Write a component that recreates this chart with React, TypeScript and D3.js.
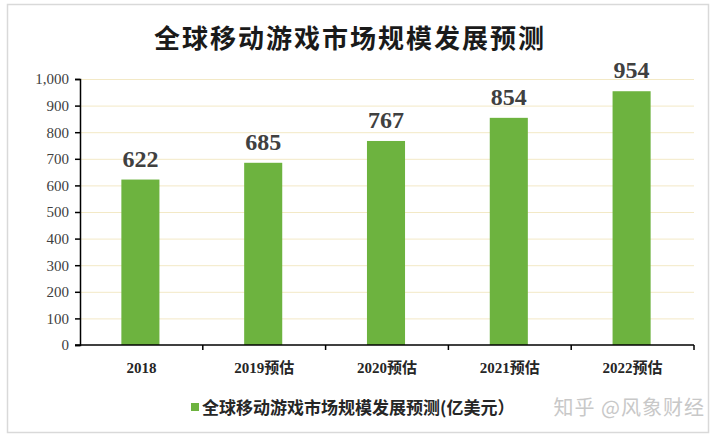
import React, { useEffect, useRef } from "react";
import * as d3 from "d3";

// chart data
const categories = ["2018", "2019预估", "2020预估", "2021预估", "2022预估"];
const values = [622, 685, 767, 854, 954];
const yTicks = [0, 100, 200, 300, 400, 500, 600, 700, 800, 900, 1000];
const title = "全球移动游戏市场规模发展预测";
const seriesName = "全球移动游戏市场规模发展预测(亿美元）";

const serif = "'Liberation Serif', 'Times New Roman', serif";
const cjk = "'Noto Sans CJK SC', sans-serif";

function App() {
  const svgRef = useRef<SVGSVGElement | null>(null);

  useEffect(() => {
    const svg = d3.select(svgRef.current);
    svg.selectAll("*").remove();

    const width = 718, height = 440;
    const margin = { left: 80, right: 24, top: 79, bottom: 95 };

    svg.attr("width", width).attr("height", height);

    svg.append("rect").attr("width", width).attr("height", height).attr("fill", "#fff");
    svg.append("rect")
      .attr("x", 7.5).attr("y", 4.5)
      .attr("width", 701).attr("height", 428)
      .attr("fill", "#fff")
      .attr("stroke", "#d9d9d9")
      .attr("stroke-width", 1.5);

    const x = d3.scaleBand()
      .domain(categories)
      .range([margin.left, width - margin.right])
      .paddingInner(0.69)
      .paddingOuter(0.345);

    const y = d3.scaleLinear()
      .domain([0, 1000])
      .range([height - margin.bottom, margin.top]);

    // gridlines
    svg.append("g")
      .selectAll("line")
      .data(yTicks.filter(d => d > 0))
      .join("line")
      .attr("x1", margin.left)
      .attr("x2", width - margin.right)
      .attr("y1", d => y(d) + 0.5)
      .attr("y2", d => y(d) + 0.5)
      .attr("stroke", "#f3e9c6")
      .attr("stroke-width", 1);

    // bars
    svg.append("g")
      .selectAll("rect")
      .data(values)
      .join("rect")
      .attr("x", (d, i) => x(categories[i])! - 1)
      .attr("y", d => y(d))
      .attr("width", x.bandwidth())
      .attr("height", d => y(0) - y(d))
      .attr("fill", "#6db33f");

    // value labels
    svg.append("g")
      .selectAll("text")
      .data(values)
      .join("text")
      .attr("x", (d, i) => x(categories[i])! + x.bandwidth() / 2 - 1)
      .attr("y", d => y(d) - 13)
      .attr("text-anchor", "middle")
      .attr("font-family", serif)
      .attr("font-weight", "bold")
      .attr("font-size", 24)
      .attr("fill", "#404040")
      .text(d => d);

    // y axis
    const yAxis = d3.axisLeft(y)
      .tickValues(yTicks)
      .tickSize(5)
      .tickFormat(d => d3.format(",")(d as number));
    const gy = svg.append("g")
      .attr("transform", `translate(${margin.left},0)`)
      .call(yAxis);
    gy.select(".domain").attr("stroke", "#000").attr("stroke-width", 1.5);
    gy.selectAll(".tick line").attr("stroke", "#000").attr("stroke-width", 1.5);
    gy.selectAll(".tick text")
      .attr("font-family", serif)
      .attr("font-size", 15)
      .attr("fill", "#404040")
      .attr("x", -11);

    // x axis with ticks at band edges
    const gx = svg.append("g")
      .attr("transform", `translate(0,${y(0)})`);
    gx.append("line")
      .attr("x1", margin.left - 5)
      .attr("x2", width - margin.right)
      .attr("stroke", "#000")
      .attr("stroke-width", 1.5);
    const step = x.step();
    gx.selectAll("line.tk")
      .data(categories)
      .join("line")
      .attr("class", "tk")
      .attr("x1", (d, i) => margin.left + step * (i + 1))
      .attr("x2", (d, i) => margin.left + step * (i + 1))
      .attr("y1", 0)
      .attr("y2", 5)
      .attr("stroke", "#000")
      .attr("stroke-width", 1.5);
    gx.selectAll("text")
      .data(categories)
      .join("text")
      .attr("x", d => x(d)! + x.bandwidth() / 2)
      .attr("y", 28)
      .attr("text-anchor", "middle")
      .attr("font-family", serif + ", " + cjk)
      .attr("font-weight", "bold")
      .attr("font-size", 15)
      .attr("fill", "#262626")
      .text(d => d);

    // title
    svg.append("text")
      .attr("x", 350)
      .attr("y", 48)
      .attr("text-anchor", "middle")
      .attr("font-family", cjk)
      .attr("font-weight", "bold")
      .attr("font-size", 26)
      .attr("letter-spacing", 2)
      .attr("fill", "#1a1a1a")
      .text(title);

    // legend
    svg.append("rect")
      .attr("x", 191).attr("y", 403)
      .attr("width", 8).attr("height", 8)
      .attr("fill", "#6db33f");
    svg.append("text")
      .attr("x", 202)
      .attr("y", 414)
      .attr("font-family", cjk)
      .attr("font-weight", "bold")
      .attr("font-size", 17)
      .attr("fill", "#262626")
      .text(seriesName);

    // watermark
    svg.append("text")
      .attr("x", 705)
      .attr("y", 415)
      .attr("text-anchor", "end")
      .attr("font-family", cjk)
      .attr("font-size", 20)
      .attr("letter-spacing", 1)
      .attr("fill", "#c8c8c8")
      .text("知乎 @风象财经");
  }, []);

  return (
    <div style={{ position: "absolute", left: 0, top: 0 }}>
      <svg ref={svgRef}></svg>
    </div>
  );
}

export default App;
